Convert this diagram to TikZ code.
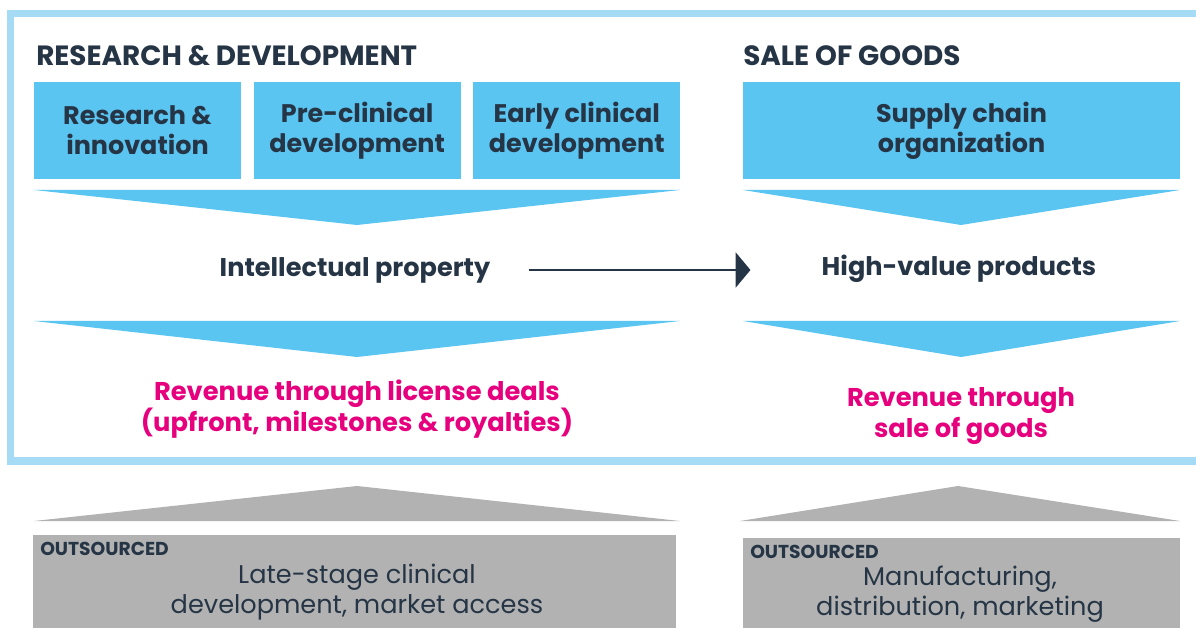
\documentclass[tikz,border=0pt]{standalone}
\usepackage{fontspec}
\setmainfont{Poppins}
\usetikzlibrary{arrows.meta,positioning}
\definecolor{framebl}{HTML}{A6DBF6}
\definecolor{boxbl}{HTML}{5BC5F2}
\definecolor{ink}{HTML}{263545}
\definecolor{revpink}{HTML}{E6007E}
\definecolor{grayb}{HTML}{B2B2B2}
\tikzset{
	>={Triangle[length=10.5pt,width=25pt]},
	head/.style={
		anchor=base west,
		inner sep=0,
		text=ink,
		font=\fontsize{19.8}{24}\selectfont\bfseries},
	bluebox/.style={
		rectangle,
		fill=boxbl,
		text=ink,
		minimum width=5.175cm,
		minimum height=2.425cm,
		inner sep=0,
		align=center,
		font=\fontsize{18.1}{21.3}\selectfont\bfseries},
	midtext/.style={inner sep=0, text=ink, font=\fontsize{18.2}{21}\selectfont\bfseries},
	revenue/.style={inner sep=0, text=revpink, align=center, font=\fontsize{18.3}{22}\selectfont\bfseries},
	outbox/.style={rectangle, fill=grayb, inner sep=0, anchor=north west, minimum height=2.5cm},
	outtag/.style={anchor=base west, inner sep=0, text=ink, font=\fontsize{13.3}{15}\selectfont\bfseries},
	outtext/.style={inner sep=0, text=ink, align=center, font=\fontsize{18.2}{21.3}\selectfont},
	chevdown/.style={fill=boxbl},
	chevup/.style={fill=grayb},
	line/.style={draw=ink, line width=1.1pt, ->},
}
\begin{document}
\begin{tikzpicture}
		[x=0.025cm, y=-0.025cm, node distance=.3cm]
	\useasboundingbox (0,0) rectangle (1196,628);
	\clip (0,0) rectangle (1196,628);
	% frame round the in-house part
	\draw[framebl, line width=5pt] (10.5,13.5) rectangle (1210,461);
	\node[head] (rdhead) at (36,66) {RESEARCH \& DEVELOPMENT};
	\node[head] (sghead) at (743,66) {SALE OF GOODS};
	\node[bluebox] (rnd) at (137.5,130.5) {Research \&\\innovation};
	\node[bluebox, right=of rnd] (precl) {Pre-clinical\\development};
	\node[bluebox, right=of precl] (early) {Early clinical\\development};
	\node[bluebox, minimum width=10.925cm] (supply) at (961.5,130.5) {Supply chain\\organization};
	\fill[chevdown] (34,190) -- (680,190) -- (357,225) -- cycle;
	\fill[chevdown] (743,190) -- (1180,190) -- (961,225) -- cycle;
	\node[midtext] (ip) at (355,270) {Intellectual property};
	\node[midtext] (hv) at (959,268.5) {High-value products};
	\draw[line, shorten <=0.95cm, shorten >=1.775cm] (ip.east) -- (ip.east -| hv.west);
	\fill[chevdown] (34,321) -- (680,321) -- (357,357) -- cycle;
	\fill[chevdown] (743,321) -- (1180,321) -- (961,357) -- cycle;
	\node[revenue] (licence) at (357,409) {Revenue through license deals\\(upfront, milestones \& royalties)};
	\node[revenue] (goods) at (961,416) {Revenue through\\sale of goods};
	% outsourced part
	\fill[chevup] (34,521) -- (680,521) -- (357,486) -- cycle;
	\fill[chevup] (740,521) -- (1180,521) -- (958,486) -- cycle;
	\node[outbox, minimum width=16.075cm] (lateout) at (33,535) {};
	\node[outtag] (latetag) at ([shift={(7,20)}]lateout.north west) {OUTSOURCED};
	\node[outtext] (late) at (357,592.5) {Late-stage clinical\\development, market access};
	\node[outbox, minimum width=10.925cm] (mfgout) at (743,538) {};
	\node[outtag] (mfgtag) at ([shift={(7,20)}]mfgout.north west) {OUTSOURCED};
	\node[outtext] (mfg) at (960,594.5) {Manufacturing,\\distribution, marketing};
\end{tikzpicture}
\end{document}
